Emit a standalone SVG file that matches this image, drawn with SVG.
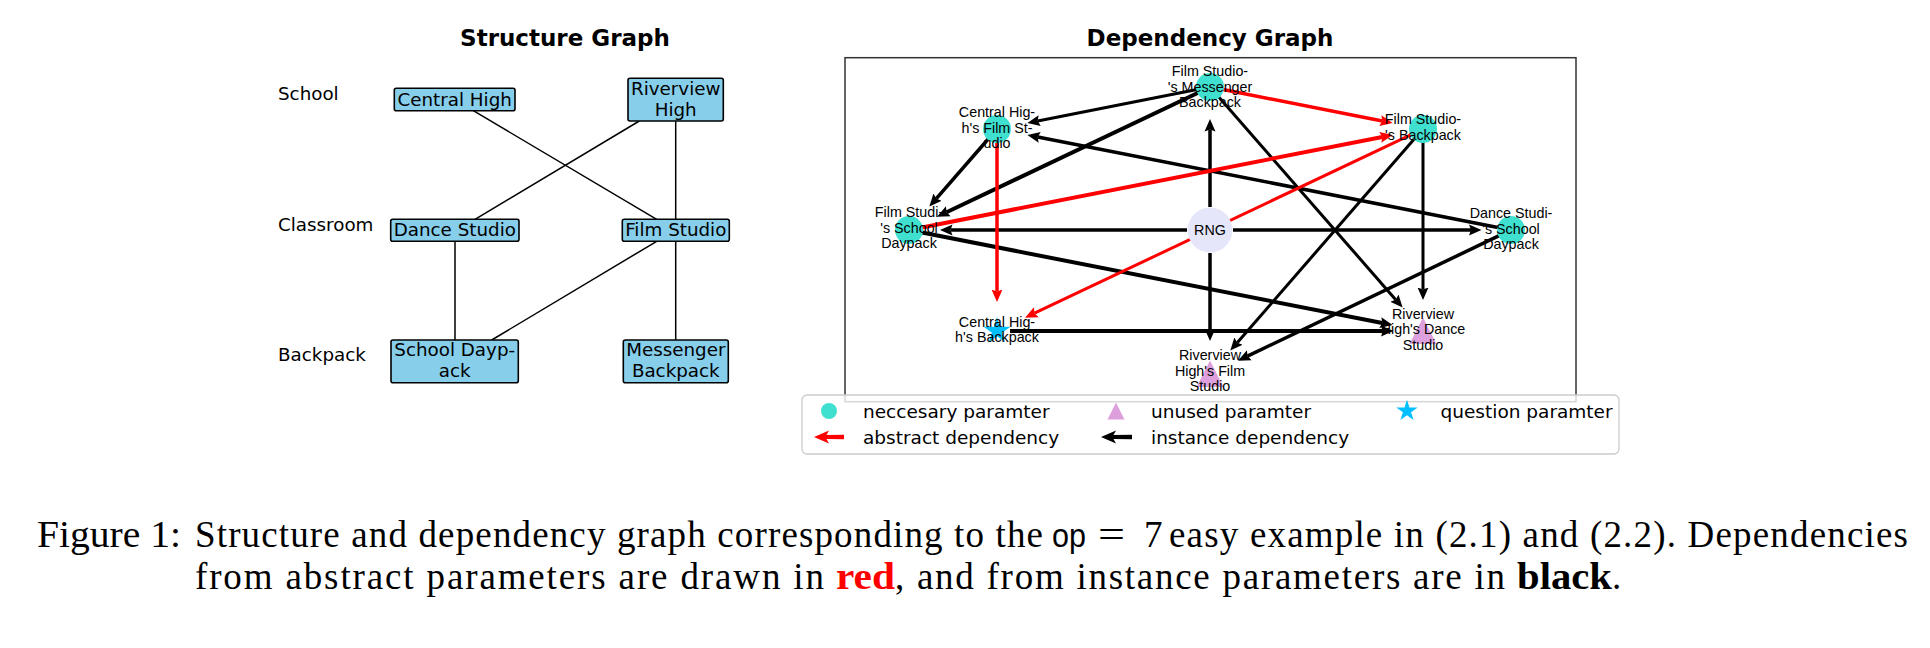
<svg xmlns="http://www.w3.org/2000/svg" xmlns:xlink="http://www.w3.org/1999/xlink" width="1930" height="648" viewBox="0 0 1930 648">
<style>
.title{font-family:"DejaVu Sans",sans-serif;font-weight:bold;font-size:23px;fill:#000;text-anchor:middle}
.lvl{font-family:"DejaVu Sans",sans-serif;font-size:18.3px;fill:#000}
.box{fill:#87CEEB;stroke:#000;stroke-width:1.6}
.btxt{font-family:"DejaVu Sans",sans-serif;font-size:18.3px;fill:#000;text-anchor:middle}
.sedge{stroke:#000;stroke-width:1.5;fill:none}
.nl{font-family:"Liberation Sans",Arial,sans-serif;font-size:14.3px;fill:#000;text-anchor:middle}
.blk{stroke:#000;fill:none;marker-end:url(#ah-k)}
.red{stroke:#FF0000;fill:none;marker-end:url(#ah-r)}
.nec{fill:#40E0D0}
.unu{fill:#DDA0DD}
.que{fill:#00BFFF}
.leg{font-family:"DejaVu Sans",sans-serif;font-size:18.5px;fill:#000}
.cap{font-family:"Liberation Serif","Times New Roman",serif;font-size:37px;fill:#000}
</style>
<defs>
<marker id="ah-k" markerUnits="userSpaceOnUse" viewBox="0 -7 14 14" markerWidth="14" markerHeight="14" refX="2" refY="0" orient="auto"><path d="M0,-5.5 L12.5,0 L0,5.5 L2,0 Z" fill="#000"/></marker>
<marker id="ah-r" markerUnits="userSpaceOnUse" viewBox="0 -7 14 14" markerWidth="14" markerHeight="14" refX="2" refY="0" orient="auto"><path d="M0,-5.5 L12.5,0 L0,5.5 L2,0 Z" fill="#FF0000"/></marker>
<path id="star" d="M0,-14 L3.14,-4.33 L13.32,-4.33 L5.09,1.65 L8.23,11.33 L0,5.35 L-8.23,11.33 L-5.09,1.65 L-13.32,-4.33 L-3.14,-4.33 Z"/>
<path id="tri" d="M0,-13.5 L13.5,13 L-13.5,13 Z"/>
</defs>
<rect width="1930" height="648" fill="#fff"/>

<!-- Structure graph -->
<text class="title" x="565" y="46">Structure Graph</text>
<text class="lvl" x="278" y="100">School</text>
<text class="lvl" x="278" y="231">Classroom</text>
<text class="lvl" x="278" y="361">Backpack</text>
<g id="structure-edges">
<line class="sedge" x1="473.3" y1="110.7" x2="656.7" y2="219.3"/>
<line class="sedge" x1="639.3" y1="121" x2="475" y2="219.3"/>
<line class="sedge" x1="675.7" y1="121" x2="675.7" y2="219.3"/>
<line class="sedge" x1="455" y1="241.3" x2="455" y2="340"/>
<line class="sedge" x1="656.7" y1="241.3" x2="491.7" y2="340"/>
<line class="sedge" x1="675.7" y1="241.3" x2="675.7" y2="340"/>
</g>
<g id="s-central-high"><rect class="box" x="394.3" y="88.3" width="120.7" height="22.4" rx="2"/><text class="btxt" x="454.7" y="106">Central High</text></g>
<g id="s-riverview-high"><rect class="box" x="628" y="78.3" width="95.3" height="42.7" rx="2"/><text class="btxt" x="675.7" y="94.5">Riverview</text><text class="btxt" x="675.7" y="115.5">High</text></g>
<g id="s-dance-studio"><rect class="box" x="390.7" y="219.3" width="128.3" height="22" rx="2"/><text class="btxt" x="454.8" y="236">Dance Studio</text></g>
<g id="s-film-studio"><rect class="box" x="622.3" y="219.3" width="107" height="22" rx="2"/><text class="btxt" x="675.8" y="236">Film Studio</text></g>
<g id="s-school-daypack"><rect class="box" x="391" y="340" width="127.3" height="42.7" rx="2"/><text class="btxt" x="454.7" y="355.5">School Dayp-</text><text class="btxt" x="454.7" y="376.5">ack</text></g>
<g id="s-messenger-backpack"><rect class="box" x="623.3" y="340" width="105" height="42.7" rx="2"/><text class="btxt" x="675.8" y="355.5">Messenger</text><text class="btxt" x="675.8" y="376.5">Backpack</text></g>

<!-- Dependency graph -->
<text class="title" x="1210" y="46">Dependency Graph</text>
<rect x="845" y="57.7" width="731" height="344" fill="none" stroke="#333" stroke-width="1.5"/>
<g id="dependency-edges">
<line class="blk" stroke-width="3" x1="1198.2" y1="89.3" x2="1037.7" y2="121"/>
<line class="blk" stroke-width="4" x1="1199.2" y1="92.2" x2="946.5" y2="212.2"/>
<line class="blk" stroke-width="3.5" x1="989.1" y1="138" x2="936.3" y2="198.7"/>
<line class="blk" stroke-width="3.5" x1="1499.2" y1="227.7" x2="1037.7" y2="137"/>
<line class="blk" stroke-width="3.5" x1="1210" y1="207" x2="1210" y2="129.5"/>
<line class="blk" stroke-width="3.5" x1="1187" y1="230" x2="950.5" y2="230"/>
<line class="blk" stroke-width="3.5" x1="1233" y1="230" x2="1471" y2="230"/>
<line class="blk" stroke-width="3.5" x1="1210" y1="253" x2="1210" y2="330.5"/>
<line class="blk" stroke-width="4" x1="920.8" y1="232.3" x2="1382.3" y2="323"/>
<line class="blk" stroke-width="4" x1="1010" y1="331" x2="1383" y2="331"/>
<line class="blk" stroke-width="3" x1="1217.9" y1="96" x2="1395.7" y2="299.7"/>
<line class="blk" stroke-width="3" x1="1423" y1="142" x2="1423" y2="289.5"/>
<line class="blk" stroke-width="3" x1="1415.1" y1="138.1" x2="1237.2" y2="342.7"/>
<line class="blk" stroke-width="3.5" x1="1500.2" y1="235.2" x2="1247.5" y2="356.1"/>
<line class="red" stroke-width="3.5" x1="1221.8" y1="89.3" x2="1382.3" y2="121"/>
<line class="red" stroke-width="4" x1="920.8" y1="227.7" x2="1382.3" y2="137"/>
<line class="red" stroke-width="3.5" x1="997" y1="142" x2="997" y2="291.5"/>
<line class="red" stroke-width="3" x1="1412.2" y1="134.1" x2="1034.5" y2="313.2"/>
</g>
<g id="n-messenger"><circle class="nec" cx="1210" cy="87" r="14"/><text class="nl" x="1210" y="76">Film Studio-</text><text class="nl" x="1210" y="91.5">'s Messenger</text><text class="nl" x="1210" y="107">Backpack</text></g>
<g id="n-fs-backpack"><circle class="nec" cx="1423" cy="129" r="14"/><text class="nl" x="1423" y="124">Film Studio-</text><text class="nl" x="1423" y="140">'s Backpack</text></g>
<g id="n-dance-daypack"><circle class="nec" cx="1511" cy="230" r="14"/><text class="nl" x="1511" y="218">Dance Studi-</text><text class="nl" x="1511" y="233.5">'s School</text><text class="nl" x="1511" y="249">Daypack</text></g>
<g id="n-rv-dance"><use href="#tri" class="unu" x="1423" y="331"/><text class="nl" x="1423" y="318.5">Riverview</text><text class="nl" x="1423" y="334">High's Dance</text><text class="nl" x="1423" y="349.5">Studio</text></g>
<g id="n-rv-film"><use href="#tri" class="unu" x="1210" y="374"/><text class="nl" x="1210" y="360">Riverview</text><text class="nl" x="1210" y="375.5">High's Film</text><text class="nl" x="1210" y="391">Studio</text></g>
<g id="n-ch-backpack"><use href="#star" class="que" x="997" y="331"/><text class="nl" x="997" y="326.5">Central Hig-</text><text class="nl" x="997" y="342">h's Backpack</text></g>
<g id="n-fs-daypack"><circle class="nec" cx="909" cy="230" r="14"/><text class="nl" x="909" y="217">Film Studi-</text><text class="nl" x="909" y="232.5">'s School</text><text class="nl" x="909" y="248">Daypack</text></g>
<g id="n-ch-film"><circle class="nec" cx="997" cy="129" r="14"/><text class="nl" x="997" y="117">Central Hig-</text><text class="nl" x="997" y="132.5">h's Film St-</text><text class="nl" x="997" y="148">udio</text></g>
<g id="n-rng"><circle cx="1210" cy="230" r="22.5" fill="#E6E6FA"/><text class="nl" x="1210" y="235">RNG</text></g>

<!-- Legend -->
<g id="legend">
<rect x="802" y="395" width="817" height="59" rx="5" fill="#fff" fill-opacity="0.8" stroke="#ccc" stroke-width="1.3"/>
<circle class="nec" cx="829" cy="411" r="8"/>
<text class="leg" x="863" y="417.5">neccesary paramter</text>
<path class="unu" d="M1116,402.5 L1124.5,419.5 L1107.5,419.5 Z"/>
<text class="leg" x="1151" y="417.5">unused paramter</text>
<use href="#star" class="que" transform="translate(1407,411) scale(0.8)"/>
<text class="leg" x="1440.5" y="417.5">question paramter</text>
<path fill="#FF0000" d="M814,437 L829,430.5 L826.5,435 L844,434.8 L844,439.2 L826.5,439 L829,443.5 Z"/>
<text class="leg" x="863" y="443.5">abstract dependency</text>
<path fill="#000" d="M1101,437 L1116,430.5 L1113.5,435 L1132,434.8 L1132,439.2 L1113.5,439 L1116,443.5 Z"/>
<text class="leg" x="1151" y="443.5">instance dependency</text>
</g>

<!-- Caption -->
<g id="caption">
<text class="cap" x="37" y="547" textLength="144" lengthAdjust="spacingAndGlyphs">Figure 1:</text>
<text class="cap" x="195" y="547" textLength="848" lengthAdjust="spacing">Structure and dependency graph corresponding to the</text>
<text x="1052" y="547" font-family="'Liberation Sans',Arial,sans-serif" font-size="33px" textLength="34" lengthAdjust="spacingAndGlyphs">op</text>
<text class="cap" x="1098" y="547" textLength="27" lengthAdjust="spacingAndGlyphs">=</text>
<text class="cap" x="1144" y="547">7</text>
<text class="cap" x="1169" y="547" textLength="739" lengthAdjust="spacing">easy example in (2.1) and (2.2). Dependencies</text>
<text class="cap" x="195" y="589" textLength="629" lengthAdjust="spacing">from abstract parameters are drawn in</text>
<text class="cap" x="836" y="589" font-weight="bold" fill="#FF0000" style="fill:#FF0000" textLength="59" lengthAdjust="spacingAndGlyphs">red</text>
<text class="cap" x="895" y="589" textLength="610" lengthAdjust="spacing">, and from instance parameters are in</text>
<text class="cap" x="1517" y="589" font-weight="bold" textLength="95" lengthAdjust="spacingAndGlyphs">black</text>
<text class="cap" x="1612" y="589">.</text>
</g>
</svg>
